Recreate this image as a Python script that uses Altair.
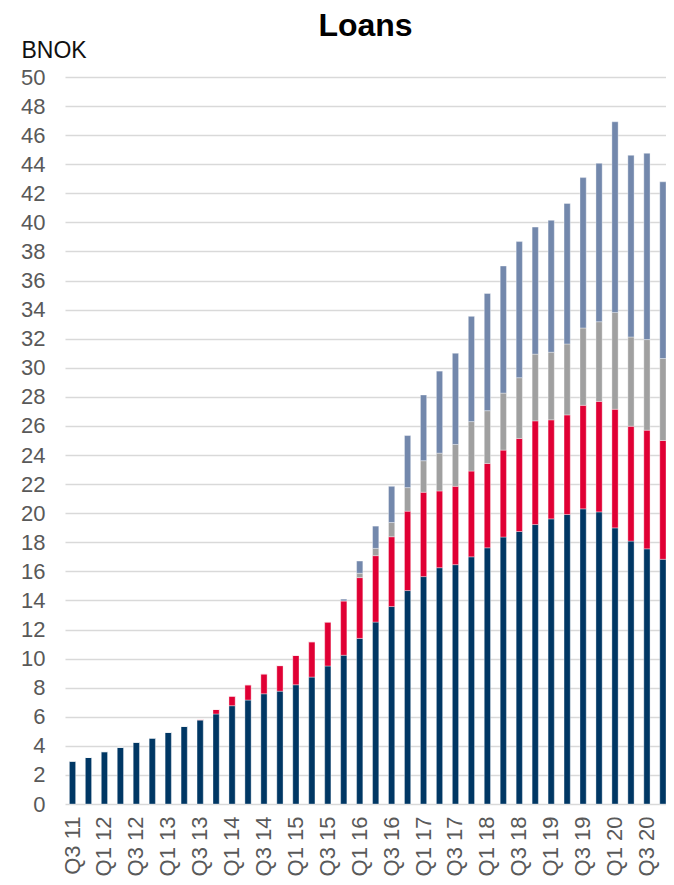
import altair as alt
import pandas as pd

quarters = ["Q3 11", "Q4 11",
            "Q1 12", "Q2 12", "Q3 12", "Q4 12",
            "Q1 13", "Q2 13", "Q3 13", "Q4 13",
            "Q1 14", "Q2 14", "Q3 14", "Q4 14",
            "Q1 15", "Q2 15", "Q3 15", "Q4 15",
            "Q1 16", "Q2 16", "Q3 16", "Q4 16",
            "Q1 17", "Q2 17", "Q3 17", "Q4 17",
            "Q1 18", "Q2 18", "Q3 18", "Q4 18",
            "Q1 19", "Q2 19", "Q3 19", "Q4 19",
            "Q1 20", "Q2 20", "Q3 20", "Q4 20"]

labelled = quarters[::2]

series_1 = [2.95, 3.20, 3.60, 3.90, 4.25, 4.54, 4.93, 5.34, 5.77, 6.19,
            6.76, 7.15, 7.58, 7.76, 8.20, 8.73, 9.49, 10.23, 11.39, 12.51,
            13.58, 14.68, 15.64, 16.25, 16.46, 17.00, 17.62, 18.36, 18.74, 19.22,
            19.61, 19.91, 20.30, 20.09, 18.99, 18.08, 17.55, 16.83]
series_2 = [0, 0, 0, 0, 0, 0, 0, 0, 0.05, 0.31,
            0.66, 1.05, 1.37, 1.76, 2.02, 2.43, 3.03, 3.74, 4.18, 4.57,
            4.80, 5.46, 5.80, 5.28, 5.39, 5.90, 5.80, 5.98, 6.40, 7.13,
            6.81, 6.85, 7.12, 7.60, 8.16, 7.90, 8.16, 8.17]
series_3 = [0, 0, 0, 0, 0, 0, 0, 0, 0, 0,
            0, 0, 0, 0, 0, 0, 0, 0, 0.30, 0.50,
            0.98, 1.62, 2.17, 2.60, 2.88, 3.40, 3.63, 3.92, 4.18, 4.59,
            4.65, 4.88, 5.32, 5.48, 6.66, 6.14, 6.23, 5.64]
series_4 = [0, 0, 0, 0, 0, 0, 0, 0, 0, 0,
            0, 0, 0, 0, 0, 0, 0, 0.12, 0.84, 1.53,
            2.49, 3.58, 4.52, 5.64, 6.27, 7.24, 8.06, 8.74, 9.36, 8.74,
            9.07, 9.66, 10.34, 10.89, 13.11, 12.49, 12.81, 12.15]

series_names = ["Series 1", "Series 2", "Series 3", "Series 4"]
series_colors = ["#003764", "#E00034", "#A0A0A0", "#7388AC"]
y_ticks = list(range(0, 51, 2))

rows = []
for k, vals in enumerate([series_1, series_2, series_3, series_4]):
    for q, v in zip(quarters, vals):
        rows.append({"quarter": q, "series": series_names[k], "order": k, "value": v})
df = pd.DataFrame(rows)

FONT = "Liberation Sans, Arial, sans-serif"

chart = alt.Chart(df).mark_bar(
    stroke="#ffffff", strokeWidth=1, strokeOpacity=0.35
).encode(
    x=alt.X("quarter:N", sort=quarters,
            scale=alt.Scale(paddingInner=0.61, paddingOuter=0.1376, align=1),
            axis=alt.Axis(title=None, values=labelled, labelAngle=-90,
                          labelFontSize=22, labelColor="#595959", labelFont=FONT,
                          ticks=False, domain=False, grid=False, labelPadding=12)),
    y=alt.Y("value:Q", stack="zero",
            scale=alt.Scale(domain=[0, 50], nice=False),
            axis=alt.Axis(title="BNOK", titleAngle=0, titleX=-44, titleY=-20,
                          titleAlign="left", titleBaseline="alphabetic",
                          titleFontSize=23, titleFontWeight="normal", titleColor="#111111",
                          titleFont=FONT,
                          values=y_ticks, labelFontSize=22, labelColor="#595959",
                          labelFont=FONT, ticks=False, domain=False, labelPadding=20,
                          gridColor="#D9D9D9", gridWidth=1.6)),
    color=alt.Color("series:N", scale=alt.Scale(domain=series_names, range=series_colors),
                    legend=None),
    order=alt.Order("order:Q", sort="ascending"),
).properties(
    width=601,
    height=727,
    title=alt.TitleParams("Loans", fontSize=32, fontWeight="bold", font=FONT,
                          color="#000000", anchor="middle", dx=0, dy=4, offset=0),
    autosize=alt.AutoSizeParams(type="none"),
    padding={"left": 57, "top": 69, "right": 0, "bottom": 73},
).configure_view(stroke=None)

chart.save("out.html", embed_options={"renderer": "svg", "actions": False})
